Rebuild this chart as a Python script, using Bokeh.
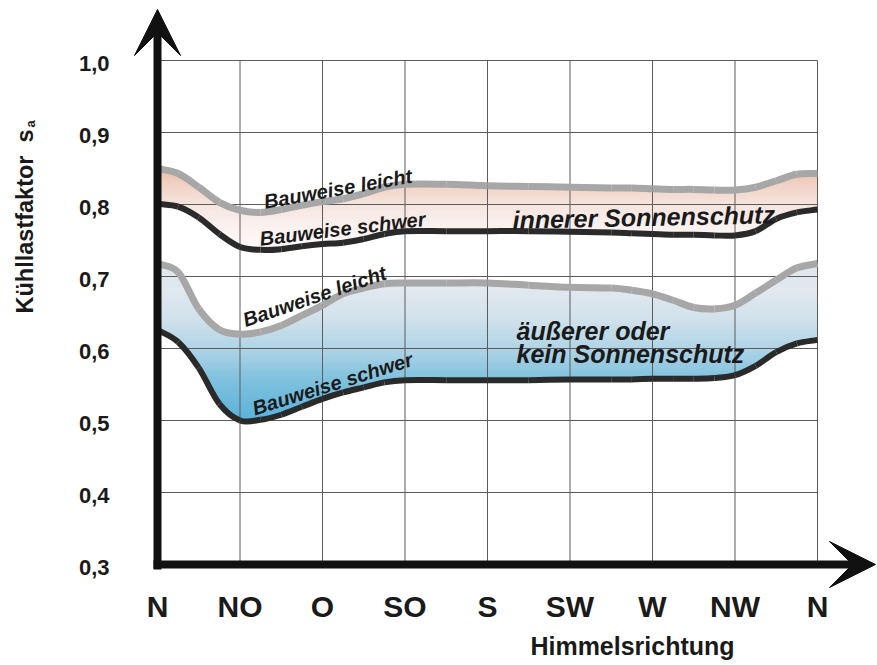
import numpy as np
from bokeh.plotting import figure
from bokeh.models import Range1d, Arrow, VeeHead, Label
from bokeh.embed import file_html
from bokeh.resources import INLINE
from bokeh.core.properties import value

# ---------------- data ----------------
directions = ["N", "NO", "O", "SO", "S", "SW", "W", "NW", "N"]
y_ticks = [0.3, 0.4, 0.5, 0.6, 0.7, 0.8, 0.9, 1.0]
y_tick_labels = ["0,3", "0,4", "0,5", "0,6", "0,7", "0,8", "0,9", "1,0"]

# positions along the direction axis (0 = N, 1 = NO, ..., 8 = N)
pos = [0, 0.25, 0.5, 0.75, 1, 1.25, 1.5, 1.75, 2, 2.25, 2.5, 2.75, 3, 3.5,
       4, 4.5, 5, 5.5, 5.75, 6, 6.25, 6.5, 6.75, 7, 7.25, 7.5, 7.75, 8]

# innerer Sonnenschutz
innen_leicht = [0.850, 0.843, 0.824, 0.803, 0.792, 0.789, 0.793, 0.799, 0.804, 0.808,
                0.815, 0.824, 0.828, 0.828, 0.826, 0.825, 0.824, 0.823, 0.823, 0.822,
                0.821, 0.821, 0.820, 0.820, 0.824, 0.833, 0.842, 0.843]
innen_schwer = [0.801, 0.797, 0.782, 0.759, 0.741, 0.737, 0.738, 0.742, 0.745, 0.747,
                0.752, 0.759, 0.763, 0.763, 0.763, 0.763, 0.762, 0.761, 0.760, 0.759,
                0.758, 0.758, 0.757, 0.757, 0.763, 0.780, 0.789, 0.793]
# aeusserer oder kein Sonnenschutz
aussen_leicht = [0.718, 0.706, 0.655, 0.626, 0.620, 0.623, 0.632, 0.646, 0.660, 0.676,
                 0.684, 0.690, 0.691, 0.691, 0.691, 0.688, 0.685, 0.684, 0.681, 0.676,
                 0.667, 0.657, 0.655, 0.660, 0.677, 0.695, 0.712, 0.718]
aussen_schwer = [0.626, 0.609, 0.573, 0.523, 0.500, 0.501, 0.508, 0.519, 0.530, 0.539,
                 0.546, 0.553, 0.556, 0.556, 0.556, 0.556, 0.557, 0.557, 0.557, 0.558,
                 0.558, 0.558, 0.559, 0.563, 0.576, 0.595, 0.607, 0.612]

# ---------------- pixel helpers (layout, page pixels) ----------------
X0, PXU = 157.0, 82.5      # page x of N, pixels per direction step
Y0, PYU = 60.0, 720.0      # page y of 1.0, pixels per unit
W, H = 877, 665
LEFT, TOP = 0, 0           # page position of the canvas


def xd(px):
    return (px - X0) / PXU


def yd(py):
    return 1.0 - (py - Y0) / PYU


FONT = "Liberation Sans"
INK = "#1a1a1a"

p = figure(width=W, height=H, output_backend="svg", toolbar_location=None,
           x_range=Range1d(xd(LEFT), xd(LEFT + W)), y_range=Range1d(yd(TOP + H), yd(TOP)),
           min_border=0)
p.axis.visible = False
p.outline_line_color = None
p.xgrid.visible = False
p.ygrid.visible = False
p.background_fill_color = "white"
p.border_fill_color = "white"


# ---------------- gradient bands ----------------
def hex2rgb(h):
    h = h.lstrip("#")
    return np.array([int(h[i:i + 2], 16) for i in (0, 2, 4)], dtype=float)


def color_at(v, stops):
    vs = np.array([s[0] for s in stops])
    cs = np.array([hex2rgb(s[1]) for s in stops])
    order = np.argsort(vs)
    vs, cs = vs[order], cs[order]
    rgb = [np.interp(v, vs, cs[:, k]) for k in range(3)]
    return "#%02x%02x%02x" % tuple(int(round(c)) for c in rgb)


def gradient_band(top, bot, stops, n=60):
    top = np.array(top)
    bot = np.array(bot)
    lo, hi = bot.min(), top.max()
    edges = np.linspace(lo, hi, n + 1)
    step = edges[1] - edges[0]
    colors = [color_at((a + b) / 2, stops) for a, b in zip(edges[:-1], edges[1:])]
    p.quad(left=pos[0], right=pos[-1], bottom=edges[:-1],
           top=np.minimum(edges[1:] + step * 0.6, hi),
           fill_color=colors, line_color=None)
    # white masks outside the band
    eps = 0.003
    p.varea(x=pos, y1=top, y2=hi + eps, fill_color="white")
    p.varea(x=pos, y1=lo - eps, y2=bot, fill_color="white")


inner_stops = [(0.86, "#eab192"), (0.83, "#f0d0c2"), (0.80, "#f5e4de"),
               (0.77, "#faf1ef"), (0.73, "#fefcfc")]
outer_stops = [(0.73, "#dde5ee"), (0.68, "#e1e8ef"), (0.64, "#d0e1eb"),
               (0.60, "#b0d4e6"), (0.56, "#82c2de"), (0.49, "#52afd8")]

gradient_band(innen_leicht, innen_schwer, inner_stops)
gradient_band(aussen_leicht, aussen_schwer, outer_stops)

# ---------------- grid ----------------
GRID = "#5c5c5c"
xt = list(range(1, len(directions)))
p.segment(x0=xt, y0=[y_ticks[0]] * len(xt), x1=xt, y1=[y_ticks[-1]] * len(xt),
          line_color=GRID, line_width=1)
yt = y_ticks[1:]
p.segment(x0=[0] * len(yt), y0=yt, x1=[len(directions) - 1] * len(yt), y1=yt,
          line_color=GRID, line_width=1)


# ---------------- smooth curves through the read points ----------------
def smooth_curve(xs, ys, color, width):
    xs = np.array(xs, dtype=float)
    ys = np.array(ys, dtype=float)
    n = len(xs)
    px = np.concatenate([[2 * xs[0] - xs[1]], xs, [2 * xs[-1] - xs[-2]]])
    py = np.concatenate([[2 * ys[0] - ys[1]], ys, [2 * ys[-1] - ys[-2]]])
    i = np.arange(n - 1)
    cx0 = px[i + 1] + (px[i + 2] - px[i]) / 6
    cy0 = py[i + 1] + (py[i + 2] - py[i]) / 6
    cx1 = px[i + 2] - (px[i + 3] - px[i + 1]) / 6
    cy1 = py[i + 2] - (py[i + 3] - py[i + 1]) / 6
    p.bezier(x0=xs[:-1], y0=ys[:-1], x1=xs[1:], y1=ys[1:],
             cx0=cx0, cy0=cy0, cx1=cx1, cy1=cy1,
             line_color=color, line_width=width, line_cap="butt")


GREY = "#a7a7a7"
BLACK = "#2a2a2a"
smooth_curve(pos, innen_leicht, GREY, 7)
smooth_curve(pos, innen_schwer, BLACK, 6)
smooth_curve(pos, aussen_leicht, GREY, 7)
smooth_curve(pos, aussen_schwer, BLACK, 6)

# ---------------- tick labels ----------------
p.text(x=list(range(len(directions))), y=[yd(606)] * len(directions), text=directions,
       text_font=value(FONT), text_font_style="bold", text_font_size="30px",
       text_align="center", text_baseline="middle", text_color=INK)
p.text(x=[xd(109)] * len(y_ticks), y=[t - 3 / PYU for t in y_ticks], text=y_tick_labels,
       text_font=value(FONT), text_font_style="bold", text_font_size="22px",
       text_align="right", text_baseline="middle", text_color=INK)

# ---------------- curve labels ----------------
deg = np.pi / 180
p.text(x=[xd(337.5), xd(342), xd(314), xd(332)],
       y=[yd(188.3), yd(228.3), yd(295.8), yd(383.3)],
       text=["Bauweise leicht", "Bauweise schwer", "Bauweise leicht", "Bauweise schwer"],
       angle=[10.1 * deg, 6.9 * deg, 18.8 * deg, 17.4 * deg],
       text_font=value(FONT), text_font_style="bold italic", text_font_size="20px",
       text_align="center", text_baseline="alphabetic", text_color=INK)
p.text(x=[xd(512), xd(516), xd(516)],
       y=[yd(219.3), yd(330), yd(353.3)],
       text=["innerer Sonnenschutz", "äußerer oder", "kein Sonnenschutz"],
       angle=[1.2 * deg, 0, 0],
       text_font=value(FONT), text_font_style="bold italic", text_font_size="25px",
       text_align="left", text_baseline="alphabetic", text_color=INK)

# ---------------- axis arrows ----------------
AX = "#111111"
p.add_layout(Arrow(end=VeeHead(size=46, fill_color=AX, line_color=AX, line_width=1),
                   x_start=0, y_start=yd(569), x_end=0, y_end=yd(9),
                   line_color=AX, line_width=8))
p.add_layout(Arrow(end=VeeHead(size=46, fill_color=AX, line_color=AX, line_width=1),
                   x_start=xd(153), y_start=y_ticks[0], x_end=xd(875), y_end=y_ticks[0],
                   line_color=AX, line_width=8))

# ---------------- axis titles ----------------
p.add_layout(Label(x=xd(24), y=yd(313), text="Kühllastfaktor\u00a0 s", angle=np.pi / 2,
                   text_align="left", text_baseline="alphabetic", text_font=FONT,
                   text_font_style="bold", text_font_size="23.5px", text_color=INK))
p.add_layout(Label(x=xd(30), y=yd(127), text="a", angle=np.pi / 2,
                   text_align="left", text_baseline="alphabetic", text_font=FONT,
                   text_font_style="bold", text_font_size="13px", text_color=INK))
p.add_layout(Label(x=xd(632), y=yd(645), text="Himmelsrichtung",
                   text_align="center", text_baseline="middle", text_font=FONT,
                   text_font_style="bold", text_font_size="25px", text_color=INK))

open("out.html", "w").write(file_html(p, INLINE))
